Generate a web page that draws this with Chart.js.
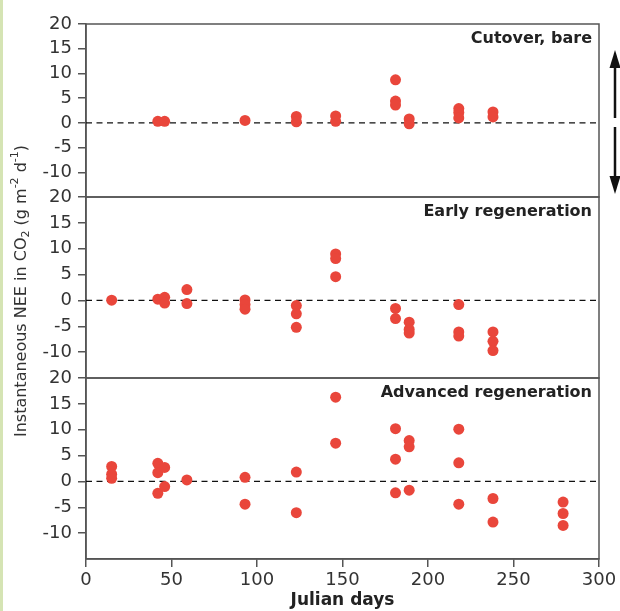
<!DOCTYPE html>
<html>
<head>
<meta charset="utf-8">
<script src="https://cdn.jsdelivr.net/npm/chart.js@4"></script>
<style>
  html, body { margin: 0; padding: 0; background: #fff; }
  #wrap { position: relative; width: 620px; height: 611px; overflow: hidden; }
  #wrap canvas { position: absolute; left: 0; top: 0; }
  #edge { position: absolute; left: 0; top: 0; width: 3px; height: 611px; background: #d5e4b4; }
</style>
</head>
<body>
<div id="wrap">
  <canvas id="c1" width="620" height="611"></canvas>
  <canvas id="c2" width="620" height="611"></canvas>
  <canvas id="c3" width="620" height="611"></canvas>
  <div id="edge"></div>
</div>
<script>
// ---- Data ----
const cutoverDays = [42, 46, 93, 123, 123, 146, 146, 181, 181, 181, 189, 189, 218, 218, 218, 238, 238];
const cutoverNEE  = [0.3, 0.3, 0.5, 1.3, 0.2, 1.4, 0.3, 8.7, 4.4, 3.6, 0.8, -0.2, 2.9, 2.1, 1.0, 2.2, 1.2];

const earlyDays = [15, 42, 46, 46, 59, 59, 93, 93, 93, 123, 123, 123, 146, 146, 146, 181, 181, 189, 189, 189, 218, 218, 218, 238, 238, 238];
const earlyNEE  = [0.05, 0.25, 0.6, -0.5, 2.1, -0.6, 0.1, -0.8, -1.7, -1.0, -2.6, -5.2, 9.0, 8.1, 4.6, -1.55, -3.5, -4.2, -5.6, -6.3, -0.8, -6.1, -6.9, -6.1, -7.9, -9.7];

const advancedDays = [15, 15, 15, 42, 42, 42, 46, 46, 59, 93, 93, 123, 123, 146, 146, 181, 181, 181, 189, 189, 189, 218, 218, 218, 238, 238, 279, 279, 279];
const advancedNEE  = [2.9, 1.4, 0.6, 3.5, 1.7, -2.3, 2.7, -1.0, 0.3, 0.8, -4.4, 1.8, -6.05, 16.3, 7.4, 10.2, 4.3, -2.2, 7.9, 6.7, -1.7, 10.1, 3.6, -4.4, -3.3, -7.85, -4.0, -6.2, -8.5];

const xTicksMin = 0, xTicksMax = 300, xStep = 50;
const yMin = -15, yMax = 20, yStep = 5;
const panelTitles = ['Cutover, bare', 'Early regeneration', 'Advanced regeneration'];
const xTitle = 'Julian days';

// ---- Styles ----
const DOT = '#e9463b';
const AXIS = '#555';
const FONT = "'DejaVu Sans', sans-serif";

function toPoints(days, vals) { return days.map((d, i) => ({ x: d, y: vals[i] })); }

const frameAndTitle = {
  id: 'frameAndTitle',
  beforeDatasetsDraw(chart, args, opts) {
    const a = chart.chartArea, ctx = chart.ctx;
    ctx.save();
    ctx.strokeStyle = AXIS;
    ctx.lineWidth = 1.5;
    ctx.strokeRect(a.left, a.top, a.right - a.left, a.bottom - a.top);
    ctx.restore();
  },
  afterDatasetsDraw(chart, args, opts) {
    const a = chart.chartArea, ctx = chart.ctx;
    ctx.save();
    ctx.fillStyle = '#222';
    ctx.font = "bold 16px " + FONT;
    ctx.textAlign = 'right';
    ctx.textBaseline = 'middle';
    ctx.fillText(opts.text || '', a.right - 7, a.top + 15);
    if (opts.arrows) {
      const x = 615;
      ctx.strokeStyle = '#111';
      ctx.fillStyle = '#111';
      ctx.lineWidth = 2.5;
      ctx.beginPath(); ctx.moveTo(x, 118); ctx.lineTo(x, 64); ctx.stroke();
      ctx.beginPath(); ctx.moveTo(x, 50); ctx.lineTo(x - 5.5, 68); ctx.lineTo(x + 5.5, 68); ctx.closePath(); ctx.fill();
      ctx.beginPath(); ctx.moveTo(x, 127); ctx.lineTo(x, 180); ctx.stroke();
      ctx.beginPath(); ctx.moveTo(x, 194); ctx.lineTo(x - 5.5, 176); ctx.lineTo(x + 5.5, 176); ctx.closePath(); ctx.fill();
    }
    if (opts.yTitle) {
      // rotated y-axis title with sub/superscripts
      const segs = [
        { t: 'Instantaneous NEE in CO', s: 16, dy: 0 },
        { t: '2', s: 11, dy: 4 },
        { t: ' (g m', s: 16, dy: 0 },
        { t: '-2', s: 11, dy: -7 },
        { t: ' d', s: 16, dy: 0 },
        { t: '-1', s: 11, dy: -7 },
        { t: ')', s: 16, dy: 0 }
      ];
      let total = 0;
      segs.forEach(g => { ctx.font = g.s + 'px ' + FONT; g.w = ctx.measureText(g.t).width; total += g.w; });
      ctx.translate(22, 291);
      ctx.rotate(-Math.PI / 2);
      ctx.textAlign = 'left';
      ctx.textBaseline = 'middle';
      ctx.fillStyle = '#333';
      let cx = -total / 2;
      segs.forEach(g => { ctx.font = g.s + 'px ' + FONT; ctx.fillText(g.t, cx, g.dy); cx += g.w; });
    }
    ctx.restore();
  }
};

function makePanel(id, days, vals, title, padTop, padBottom, showX, extra) {
  const xScale = {
    type: 'linear', min: xTicksMin, max: xTicksMax, position: 'bottom', display: showX,
    border: { display: true, color: AXIS, width: 1.5 },
    grid: { display: true, drawOnChartArea: false, drawTicks: true, tickLength: 8, color: AXIS, lineWidth: 1.5 },
    ticks: { stepSize: xStep, padding: 3, color: '#333', maxRotation: 0, font: { family: FONT, size: 18 } },
    title: { display: true, text: xTitle, color: '#222', font: { family: FONT, size: 17, weight: 'bold' }, padding: { top: 0, bottom: 0 } }
  };
  if (showX) xScale.afterFit = s => { s.height = 52; };
  return new Chart(document.getElementById(id), {
    type: 'scatter',
    data: {
      datasets: [
        { type: 'scatter', data: toPoints(days, vals), backgroundColor: DOT, borderWidth: 0, pointRadius: 5.5, pointHoverRadius: 5.5 },
        { type: 'line', data: [{ x: xTicksMin, y: 0 }, { x: xTicksMax, y: 0 }], borderColor: '#111', borderWidth: 1.3, borderDash: [6, 4.5], pointRadius: 0, fill: false }
      ]
    },
    options: {
      responsive: false, animation: false, devicePixelRatio: 1,
      layout: { padding: { top: padTop, bottom: padBottom, left: 0, right: 21 } },
      plugins: { legend: { display: false }, tooltip: { enabled: false }, frameAndTitle: Object.assign({ text: title }, extra || {}) },
      events: [],
      scales: {
        x: xScale,
        y: {
          type: 'linear', min: yMin, max: yMax, position: 'left',
          afterFit: s => { s.width = 86; },
          border: { display: true, color: AXIS, width: 1.5 },
          grid: { display: true, drawOnChartArea: false, drawTicks: true, tickLength: 8, lineWidth: 1.5,
                  color: c => (c.tick && c.tick.value === yMin) ? 'rgba(0,0,0,0)' : AXIS },
          ticks: { stepSize: yStep, padding: 6, color: '#333', font: { family: FONT, size: 18 },
                   callback: v => v === yMin ? '' : String(v) }
        }
      }
    },
    plugins: [frameAndTitle]
  });
}

makePanel('c1', cutoverDays, cutoverNEE, panelTitles[0], 24, 414, false, { arrows: true });
makePanel('c2', earlyDays, earlyNEE, panelTitles[1], 197, 233, false);
makePanel('c3', advancedDays, advancedNEE, panelTitles[2], 378, 0, true, { yTitle: true });
</script>
</body>
</html>
